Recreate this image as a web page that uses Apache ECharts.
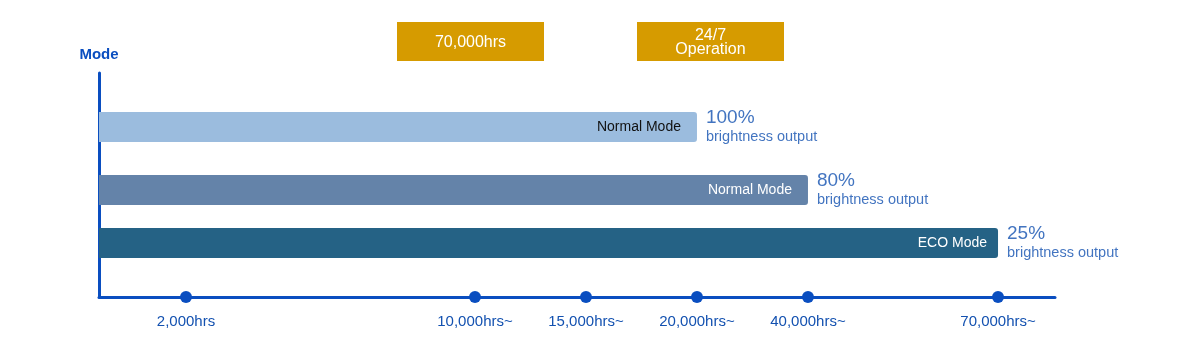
<!DOCTYPE html>
<html>
<head>
<meta charset="utf-8">
<script src="https://cdn.jsdelivr.net/npm/echarts@6/dist/echarts.min.js"></script>
<style>
html,body{margin:0;padding:0;background:#fff;}
#chart{width:1200px;height:358px;}
</style>
</head>
<body>
<div id="chart"></div>
<script>
// ---- data ----
const modes = ['Normal Mode', 'Normal Mode', 'ECO Mode'];
const brightness = ['100%', '80%', '25%'];
const lifeHours = [20000, 40000, 70000];
const tickHours = [2000, 10000, 15000, 20000, 40000, 70000];
const tickLabels = ['2,000hrs', '10,000hrs~', '15,000hrs~', '20,000hrs~', '40,000hrs~', '70,000hrs~'];
const badges = ['70,000hrs', '24/7\nOperation'];

// ---- schematic (non-linear) axis scale: hours -> fraction of axis length ----
const scaleHours = [0, 2000, 10000, 15000, 20000, 40000, 70000];
const scaleFrac  = [0, 0.091, 0.3933, 0.5094, 0.6255, 0.7416, 0.9404];
function axisPos(h) {
  for (let i = 1; i < scaleHours.length; i++) {
    if (h <= scaleHours[i]) {
      const t = (h - scaleHours[i - 1]) / (scaleHours[i] - scaleHours[i - 1]);
      return scaleFrac[i - 1] + t * (scaleFrac[i] - scaleFrac[i - 1]);
    }
  }
  return scaleFrac[scaleFrac.length - 1];
}

// ---- layout / styles ----
const BLUE = '#0a4ec0';
const TXT = '#1351b0';
const barColors = ['#9bbcde', '#6483a9', '#256285'];
const innerTextColors = ['#111111', '#ffffff', '#ffffff'];
const innerInset = [16, 16, 11];
const rowTops = [112, 175, 228];
const ROW_H = 30;
const GOLD = '#d69b00';
const FONT = '"Liberation Sans", Arial, sans-serif';

const tickPos = tickHours.map(axisPos);

const chart = echarts.init(document.getElementById('chart'), null, {renderer: 'canvas'});

const grids = [{left: 99, right: 145, top: 73, bottom: 61}].concat(
  rowTops.map(t => ({left: 99, right: 145, top: t, height: ROW_H}))
);

const xAxes = [{
  gridIndex: 0, type: 'value', min: 0, max: 1,
  axisLine: {show: true, lineStyle: {color: BLUE, width: 3}},
  axisTick: {show: false},
  splitLine: {show: false},
  axisLabel: {
    show: true,
    customValues: tickPos,
    color: TXT, fontSize: 15, margin: 17, fontFamily: FONT,
    formatter: function (v) {
      let best = 0, d = Infinity;
      tickPos.forEach((p, i) => { if (Math.abs(p - v) < d) { d = Math.abs(p - v); best = i; } });
      return tickLabels[best];
    }
  }
}].concat(rowTops.map((t, i) => ({gridIndex: i + 1, type: 'value', min: 0, max: 1, show: false})));

const yAxes = [{
  gridIndex: 0, type: 'value', min: 0, max: 1,
  name: 'Mode', nameLocation: 'end', nameGap: 11,
  nameTextStyle: {color: BLUE, fontWeight: 'bold', fontSize: 15, fontFamily: FONT, align: 'center'},
  axisLine: {show: true, lineStyle: {color: BLUE, width: 3}},
  axisTick: {show: false}, axisLabel: {show: false}, splitLine: {show: false}
}].concat(modes.map((m, i) => ({gridIndex: i + 1, type: 'category', data: [m], show: false})));

const barSeries = lifeHours.map((h, i) => ({
  type: 'bar',
  xAxisIndex: i + 1, yAxisIndex: i + 1,
  barWidth: ROW_H,
  itemStyle: {color: barColors[i], borderRadius: [0, 3, 3, 0]},
  label: {
    show: true, position: 'insideRight', distance: innerInset[i],
    formatter: modes[i], color: innerTextColors[i], fontSize: 14, fontFamily: FONT
  },
  data: [axisPos(h)]
}));

const outLabelSeries = lifeHours.map((h, i) => ({
  type: 'scatter',
  xAxisIndex: i + 1, yAxisIndex: i + 1,
  symbolSize: 0,
  clip: false,
  label: {
    show: true, position: 'right', distance: 9,
    formatter: '{p|' + brightness[i] + '}\n{b|brightness output}',
    rich: {
      p: {fontSize: 19, color: TXT, lineHeight: 20, fontFamily: FONT},
      b: {fontSize: 14.5, color: TXT, lineHeight: 18, fontFamily: FONT}
    }
  },
  data: [[axisPos(h), 0]]
}));

const option = {
  animation: false,
  textStyle: {fontFamily: FONT},
  grid: grids,
  xAxis: xAxes,
  yAxis: yAxes,
  graphic: badges.map((t, i) => ({
    type: 'group',
    left: [397, 637][i],
    top: 22,
    children: [
      {type: 'rect', shape: {x: 0, y: 0, width: 147, height: 39}, style: {fill: GOLD}},
      {type: 'text', x: 73.5, y: 20.5, style: {
        text: t, fill: '#ffffff', font: '16px ' + FONT, align: 'center', verticalAlign: 'middle', lineHeight: 14
      }}
    ]
  })),
  series: barSeries.concat(outLabelSeries).concat([{
    type: 'scatter',
    xAxisIndex: 0, yAxisIndex: 0,
    symbol: 'circle', symbolSize: 12,
    itemStyle: {color: BLUE, opacity: 1},
    clip: false,
    z: 5,
    data: tickPos.map(p => [p, 0])
  }])
};
chart.setOption(option);
</script>
</body>
</html>
